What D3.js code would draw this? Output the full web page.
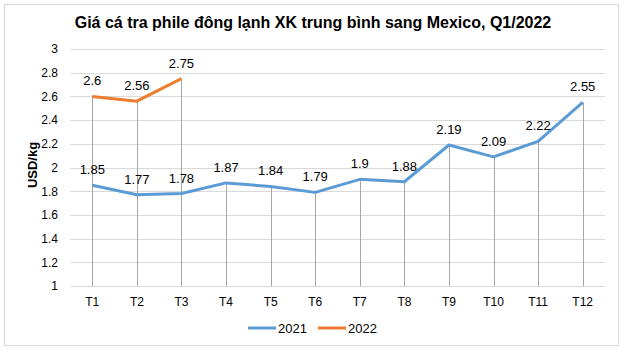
<!DOCTYPE html>
<html><head><meta charset="utf-8">
<script src="https://cdn.jsdelivr.net/npm/d3@7"></script>
<style>body{margin:0;background:#fff}svg{display:block;font-family:"Liberation Sans",Arial,sans-serif}</style>
</head><body><svg width="626" height="350"></svg>
<script>
const months = ["T1","T2","T3","T4","T5","T6","T7","T8","T9","T10","T11","T12"];
const values2021 = [1.85,1.77,1.78,1.87,1.84,1.79,1.9,1.88,2.19,2.09,2.22,2.55];
const values2022 = [2.6,2.56,2.75];
const yTicks = [1,1.2,1.4,1.6,1.8,2,2.2,2.4,2.6,2.8,3];
const seriesNames = ["2021","2022"];
const colors = ["#5B9BD5","#ED7D31"];

const svg = d3.select("svg");
svg.append("rect").attr("x",4.5).attr("y",4.5).attr("width",614).attr("height",341)
  .attr("fill","#fff").attr("stroke","#d9d9d9");

const x = d3.scaleBand().domain(months).range([70,605]);
const y = d3.scaleLinear().domain([1,3]).range([286,49]);
const cx = d => x(d)+x.bandwidth()/2;

// gridlines
svg.append("g").selectAll("line").data(yTicks).join("line")
  .attr("x1",70).attr("x2",605).attr("y1",d=>Math.round(y(d))+0.5).attr("y2",d=>Math.round(y(d))+0.5)
  .attr("stroke","#d9d9d9").attr("stroke-width",1);

// y tick labels
const yAxis = d3.axisLeft(y).tickValues(yTicks).tickSize(0).tickPadding(0).tickFormat(d=>d3.format("")(+d.toFixed(1)));
const gy = svg.append("g").attr("transform","translate(58,0)").call(yAxis);
gy.select(".domain").remove();
gy.selectAll("text").attr("font-size",12).attr("fill","#000").attr("font-family","Liberation Sans, Arial, sans-serif");

// x tick labels
const xAxis = d3.axisBottom(x).tickSize(0).tickPadding(0);
const gx = svg.append("g").attr("transform","translate(0,297)").call(xAxis);
gx.select(".domain").remove();
gx.selectAll("text").attr("font-size",12).attr("fill","#000").attr("font-family","Liberation Sans, Arial, sans-serif");

// drop lines
const maxVals = months.map((m,i)=>Math.max(values2021[i], i<values2022.length?values2022[i]:-Infinity));
svg.append("g").selectAll("line").data(months).join("line")
  .attr("x1",d=>Math.round(cx(d))+0.5).attr("x2",d=>Math.round(cx(d))+0.5)
  .attr("y1",(d,i)=>y(maxVals[i])).attr("y2",y(1))
  .attr("stroke","#a6a6a6").attr("stroke-width",1);

const line = d3.line().x(d=>cx(d.m)).y(d=>y(d.v));
const series = [values2021, values2022].map((vals,k)=>({name:seriesNames[k], color:colors[k], pts:vals.map((v,i)=>({m:months[i],v}))}));
series.forEach(s=>{
  svg.append("path").datum(s.pts).attr("d",line).attr("fill","none")
    .attr("stroke",s.color).attr("stroke-width",3).attr("stroke-linejoin","round");
  svg.append("g").selectAll("text").data(s.pts).join("text")
    .attr("x",d=>cx(d.m)).attr("y",d=>y(d.v)-11).attr("text-anchor","middle")
    .attr("font-size",13).attr("fill","#000").text(d=>d.v);
});

// title
svg.append("text").attr("x",313).attr("y",28).attr("text-anchor","middle")
  .attr("font-size",16).attr("font-weight","bold").attr("fill","#000")
  .text("Giá cá tra phile đông lạnh XK trung bình sang Mexico, Q1/2022");

// y axis title
svg.append("text").attr("transform","translate(37,165) rotate(-90)").attr("text-anchor","middle")
  .attr("font-size",13).attr("font-weight","bold").attr("fill","#000").text("USD/kg");

// legend
const legX = [248,318];
series.forEach((s,k)=>{
  const g = svg.append("g").attr("transform",`translate(${legX[k]},328)`);
  g.append("line").attr("x1",0).attr("x2",28).attr("y1",0).attr("y2",0).attr("stroke",s.color).attr("stroke-width",3);
  g.append("text").attr("x",30).attr("y",5).attr("font-size",13).attr("fill","#000").text(s.name);
});
</script></body></html>
